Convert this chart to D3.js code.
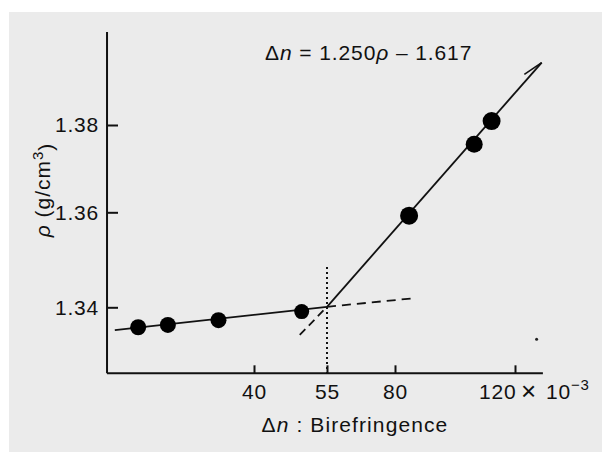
<!DOCTYPE html>
<html>
<head>
<meta charset="utf-8">
<script src="https://cdn.jsdelivr.net/npm/d3@7"></script>
<style>
  html, body { margin: 0; padding: 0; background: #fff; }
  svg { display: block; }
  text { font-family: "Liberation Sans", Arial, sans-serif; fill: #111; }
</style>
</head>
<body>
<div id="figure"><svg></svg></div>
<script>
// Data (birefringence x 10^-3, density g/cm3)
var dn = [16.2, 22.3, 32.7, 49.8, 84.7, 106.4, 112.2];
var rho = [1.3358, 1.3363, 1.3373, 1.3391, 1.3593, 1.3756, 1.3809];
var radius = [8, 8, 8, 7.5, 9, 8.5, 9];

// fitted lines: low-orientation branch and high-orientation branch
var lowLine = [[11.4, 1.3352], [55, 1.3401]];
var lowDashed = [[55, 1.3401], [86.1, 1.3419]];
var highDashed = [[49.4, 1.3342], [55, 1.3401]];
var highLine = [[55, 1.3401], [128.9, 1.3943]];
var crossX = 55; // dotted marker
var crossY = [1.3261, 1.3485];
var speck = [[127.2, 1.3333]]; // stray dot on the scan

// axis ticks (the axis is drawn unevenly on the original)
var xTicks = [40, 55, 80, 120];
var xTickPx = [254, 327, 395, 515];
var yTicks = [1.34, 1.36, 1.38];
var yTickPx = [307.3, 212.3, 125];
var xDomain = [9.8, 129.3];
var yDomain = [1.3261, 1.4013];

var W = 602, H = 452;
var svg = d3.select("#figure").select("svg").attr("width", W).attr("height", H);

// scanned page background
svg.append("rect").attr("x", 9).attr("y", 12).attr("width", W - 9).attr("height", H - 12)
  .attr("fill", "#ebebeb");

var x = d3.scaleLinear().domain(xTicks).range(xTickPx);
var y = d3.scaleLinear().domain(yTicks).range(yTickPx);

// axes
var xAxis = svg.append("g").attr("transform", "translate(0," + y(yDomain[0]) + ")")
  .call(d3.axisBottom(x).tickValues(xTicks).tickSizeInner(-8).tickSizeOuter(0).tickPadding(11));
var yAxis = svg.append("g").attr("transform", "translate(" + x(xDomain[0]) + ",0)")
  .call(d3.axisLeft(y).tickValues(yTicks).tickFormat(d3.format(".2f")).tickSizeInner(-11).tickSizeOuter(0).tickPadding(8));

xAxis.select(".domain").attr("d", "M" + x(xDomain[0]) + ",0H" + x(xDomain[1]));
yAxis.select(".domain").attr("d", "M0," + y(yDomain[0]) + "V" + y(yDomain[1]));
[xAxis, yAxis].forEach(function (a) {
  a.select(".domain").attr("stroke", "#111").attr("stroke-width", 2);
  a.selectAll(".tick line").attr("stroke", "#111").attr("stroke-width", 2);
  a.selectAll(".tick text").attr("font-size", 21).attr("letter-spacing", 0.8)
    .attr("font-family", "Liberation Sans, Arial, sans-serif").attr("fill", "#111");
});
// the last x label sits left of its tick, followed by the multiplier
xAxis.selectAll(".tick text").filter(function (d) { return d == 120; })
  .attr("text-anchor", "end").attr("x", 1);
var multG = xAxis.append("g").attr("font-family", "Liberation Sans, Arial, sans-serif")
  .attr("text-anchor", "start").attr("fill", "#111");
multG.append("text").attr("x", x(120) + 6).attr("y", 27).attr("font-size", 26).text("×");
var pow = multG.append("text").attr("x", x(120) + 31).attr("y", 26).attr("font-size", 21).attr("letter-spacing", 0.8);
pow.append("tspan").text("10");
pow.append("tspan").attr("dy", -9).attr("font-size", 15).text("−3");

// fitted lines
function seg(pts, dash) {
  svg.append("line")
    .attr("x1", x(pts[0][0])).attr("y1", y(pts[0][1]))
    .attr("x2", x(pts[1][0])).attr("y2", y(pts[1][1]))
    .attr("stroke", "#111").attr("stroke-width", 1.8)
    .attr("stroke-dasharray", dash || null);
}
seg(lowLine);
seg(lowDashed, "9,6");
seg(highDashed, "8,5");
seg(highLine);

// half arrow at the top end of the steep line
var tx = x(highLine[1][0]), ty = y(highLine[1][1]);
var ang = Math.atan2(ty - y(highLine[0][1]), tx - x(highLine[0][0]));
var bx = tx - 21 * Math.cos(ang + 0.25), by = ty - 21 * Math.sin(ang + 0.25);
svg.append("line").attr("x1", bx).attr("y1", by).attr("x2", tx).attr("y2", ty)
  .attr("stroke", "#111").attr("stroke-width", 1.6);

// dotted vertical at 55
svg.append("line").attr("x1", x(crossX)).attr("x2", x(crossX))
  .attr("y1", y(crossY[1])).attr("y2", y(crossY[0]))
  .attr("stroke", "#111").attr("stroke-width", 2).attr("stroke-dasharray", "2,3");

// data points
svg.selectAll("circle.pt").data(dn).enter().append("circle").attr("class", "pt")
  .attr("cx", function (d) { return x(d); })
  .attr("cy", function (d, i) { return y(rho[i]); })
  .attr("r", function (d, i) { return radius[i]; })
  .attr("fill", "#000");

svg.selectAll("circle.speck").data(speck).enter().append("circle").attr("class", "speck")
  .attr("cx", function (d) { return x(d[0]); })
  .attr("cy", function (d) { return y(d[1]); })
  .attr("r", 1.5).attr("fill", "#222");

// equation
var eq = svg.append("text").attr("x", 265).attr("y", 60).attr("font-size", 21).attr("letter-spacing", 0.9);
eq.append("tspan").text("Δ");
eq.append("tspan").attr("font-style", "italic").text("n");
eq.append("tspan").text(" = 1.250");
eq.append("tspan").attr("font-style", "italic").text("ρ");
eq.append("tspan").text(" – 1.617");

// axis titles
var xl = svg.append("text").attr("x", 355).attr("y", 432).attr("text-anchor", "middle")
  .attr("font-size", 21).attr("letter-spacing", 1.1);
xl.append("tspan").text("Δ");
xl.append("tspan").attr("font-style", "italic").text("n");
xl.append("tspan").text(" : Birefringence");

var yl = svg.append("text").attr("transform", "translate(50,190) rotate(-90)")
  .attr("text-anchor", "middle").attr("font-size", 21).attr("letter-spacing", 1);
yl.append("tspan").attr("font-style", "italic").text("ρ");
yl.append("tspan").text(" (g/cm");
yl.append("tspan").attr("dy", "-0.45em").attr("font-size", 15).text("3");
yl.append("tspan").attr("dy", "0.45em").text(")");
</script>
</body>
</html>
